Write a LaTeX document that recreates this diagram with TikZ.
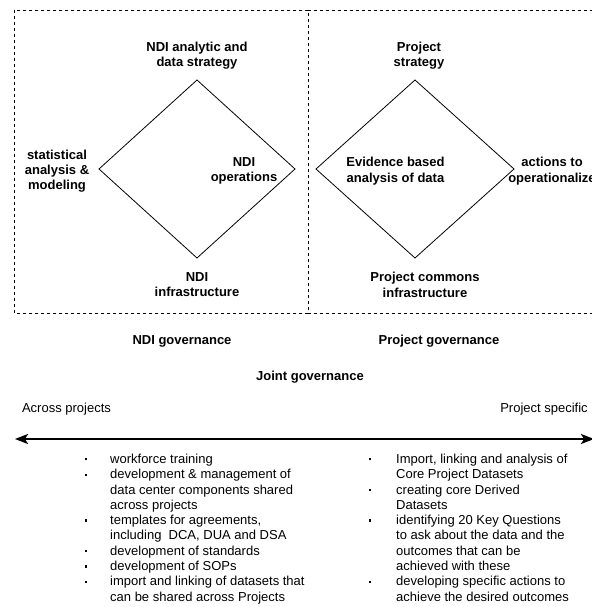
\documentclass[tikz,border=0pt]{standalone}
\usepackage{fontspec}
\setmainfont{Liberation Sans}
\usetikzlibrary{arrows.meta}
\newcommand{\bul}{\hspace*{0.5pt}\raisebox{3pt}{\rule{2.2pt}{2.2pt}}}
\tikzset{
  lbl/.style={inner sep=0pt, align=center, font=\fontsize{13}{15.3}\selectfont\bfseries},
  plain/.style={inner sep=0pt, align=center, font=\fontsize{13}{15.3}\selectfont},
  listtext/.style={inner sep=0pt, anchor=north west, font=\fontsize{13}{15.3}\selectfont},
  frame/.style={draw=black, line width=0.8pt, dash pattern=on 3pt off 3pt},
  dia/.style={draw=black, line width=0.8pt},
  axis/.style={draw=black, line width=2pt, {Stealth[length=13pt,width=10pt,inset=3pt]}-{Stealth[length=13pt,width=10pt,inset=3pt]}}
}
\begin{document}
\begin{tikzpicture}[x=1pt,y=-1pt]
\useasboundingbox (0,0) rectangle (591,607);
% dashed frames
\draw[frame] (14,10) rectangle (308,313);
\draw[frame] (308,10) -- (610,10);
\draw[frame] (308,313) -- (610,313);
% left diamond
\coordinate (d1t) at (197,80);
\coordinate (d1r) at (295,169);
\coordinate (d1b) at (197,258);
\coordinate (d1l) at (99,169);
\draw[dia] (d1t) -- (d1r) -- (d1b) -- (d1l) -- cycle;
% right diamond
\coordinate (d2t) at (415,80);
\coordinate (d2r) at (514,169);
\coordinate (d2b) at (415,258);
\coordinate (d2l) at (316,169);
\draw[dia] (d2t) -- (d2r) -- (d2b) -- (d2l) -- cycle;
% labels
\node[lbl] (ndistrat) at (197,55.5) {NDI analytic and\\data strategy};
\node[lbl] (stat) at (57,171) {statistical\\analysis \&\\modeling};
\node[lbl] (ndiops) at (244,171) {NDI\\operations};
\node[lbl] (ndiinfra) at (197,284.5) {NDI\\infrastructure};
\node[lbl] (projstrat) at (419,55.5) {Project\\strategy};
\node[lbl] (evid) at (395.5,171) {Evidence based\\analysis of data};
\node[lbl] (actions) at (552,171) {actions to\\operationalize};
\node[lbl] (projinfra) at (425,285) {Project commons\\infrastructure};
\node[lbl] (ndigov) at (182,341) {NDI governance};
\node[lbl] (projgov) at (439,341) {Project governance};
\node[lbl] (jointgov) at (310,377) {Joint governance};
\node[plain] (across) at (66.5,409) {Across projects};
\node[plain] (specific) at (544,409) {Project specific};
% axis
\coordinate (aL) at (15,439);
\coordinate (aR) at (594,439);
\draw[axis] (aL) -- (aR);
% lists
\node[listtext] (leftlist) at (84,452.5) {\begin{tabular}{@{}p{26pt}@{}l@{}}
\bul & workforce training\\
\bul & development \& management of\\
 & data center components shared\\
 & across projects\\
\bul & templates for agreements,\\
 & including\ \ DCA, DUA and DSA\\
\bul & development of standards\\
\bul & development of SOPs\\
\bul & import and linking of datasets that\\
 & can be shared across Projects
\end{tabular}};
\node[listtext] (rightlist) at (368,452.5) {\begin{tabular}{@{}p{28pt}@{}l@{}}
\bul & Import, linking and analysis of\\
 & Core Project Datasets\\
\bul & creating core Derived\\
 & Datasets\\
\bul & identifying 20 Key Questions\\
 & to ask about the data and the\\
 & outcomes that can be\\
 & achieved with these\\
\bul & developing specific actions to\\
 & achieve the desired outcomes
\end{tabular}};
\end{tikzpicture}
\end{document}
